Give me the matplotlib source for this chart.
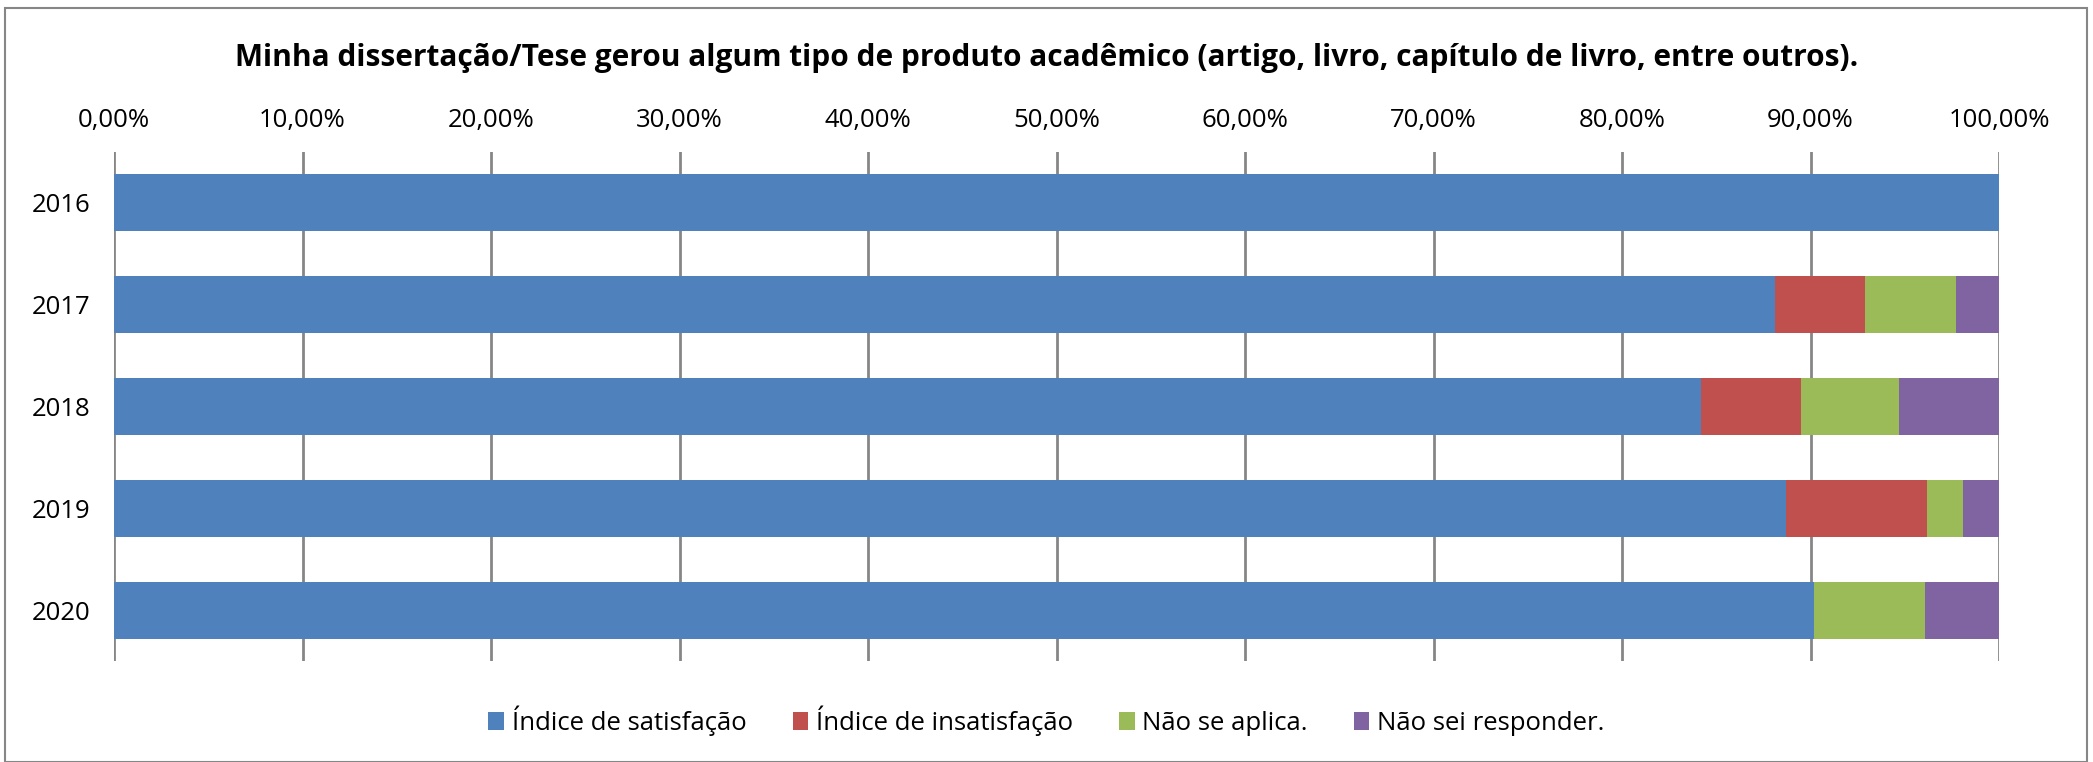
import numpy as np
import matplotlib.pyplot as plt
from matplotlib.patches import Rectangle
from matplotlib.ticker import FuncFormatter

plt.rcParams['font.family'] = ['Open Sans', 'DejaVu Sans']

anos = ['2016', '2017', '2018', '2019', '2020']
series = ['Índice de satisfação', 'Índice de insatisfação', 'Não se aplica.', 'Não sei responder.']
satisfacao = [100.0, 88.1, 84.2, 88.7, 90.2]
insatisfacao = [0.0, 4.8, 5.3, 7.5, 0.0]
nao_aplica = [0.0, 4.8, 5.2, 1.9, 5.9]
nao_sei = [0.0, 2.3, 5.3, 1.9, 3.9]
cores = ['#4F81BD', '#C0504D', '#9BBB59', '#8064A2']

W, H = 2093, 762
fig = plt.figure(figsize=(W / 100, H / 100), dpi=100)
ax = fig.add_axes([114 / W, 1 - 661 / H, (1999 - 114) / W, (661 - 152) / H])

y = np.arange(len(anos))
left = np.zeros(len(anos))
for vals, nome, cor in zip([satisfacao, insatisfacao, nao_aplica, nao_sei], series, cores):
    ax.barh(y, vals, left=left, height=0.56, color=cor, label=nome, zorder=3)
    left += np.array(vals)

ax.set_xlim(0, 100)
ax.set_ylim(4.5, -0.5)
ax.set_xticks(np.arange(0, 101, 10))
ax.xaxis.set_major_formatter(FuncFormatter(lambda v, p: f'{v:.2f}%'.replace('.', ',')))
ax.xaxis.tick_top()
ax.set_yticks(y)
ax.set_yticklabels(anos)
ax.tick_params(axis='both', length=0, labelsize=18.5, colors='#000000')
ax.tick_params(axis='x', pad=14)
ax.tick_params(axis='y', pad=17)
ax.grid(axis='x', color='#868686', linewidth=2, zorder=0)
for s in ax.spines.values():
    s.set_visible(False)

fig.text(0.5, 1 - 58 / H,
         'Minha dissertação/Tese gerou algum tipo de produto acadêmico (artigo, livro, capítulo de livro, entre outros).',
         ha='center', va='center', fontsize=21.5, fontweight='bold')

fig.legend(loc='center', bbox_to_anchor=(0.5, 1 - 721 / H), ncol=4, frameon=False,
           fontsize=18.5, handlelength=0.6, handleheight=0.7, handletextpad=0.3, columnspacing=1.8)

fig.patches.append(Rectangle((5 / W, 0), (W - 11) / W, 1 - 8 / H, transform=fig.transFigure,
                             fill=False, edgecolor='#868686', linewidth=1.5))

fig.savefig('out.png', dpi=100)
